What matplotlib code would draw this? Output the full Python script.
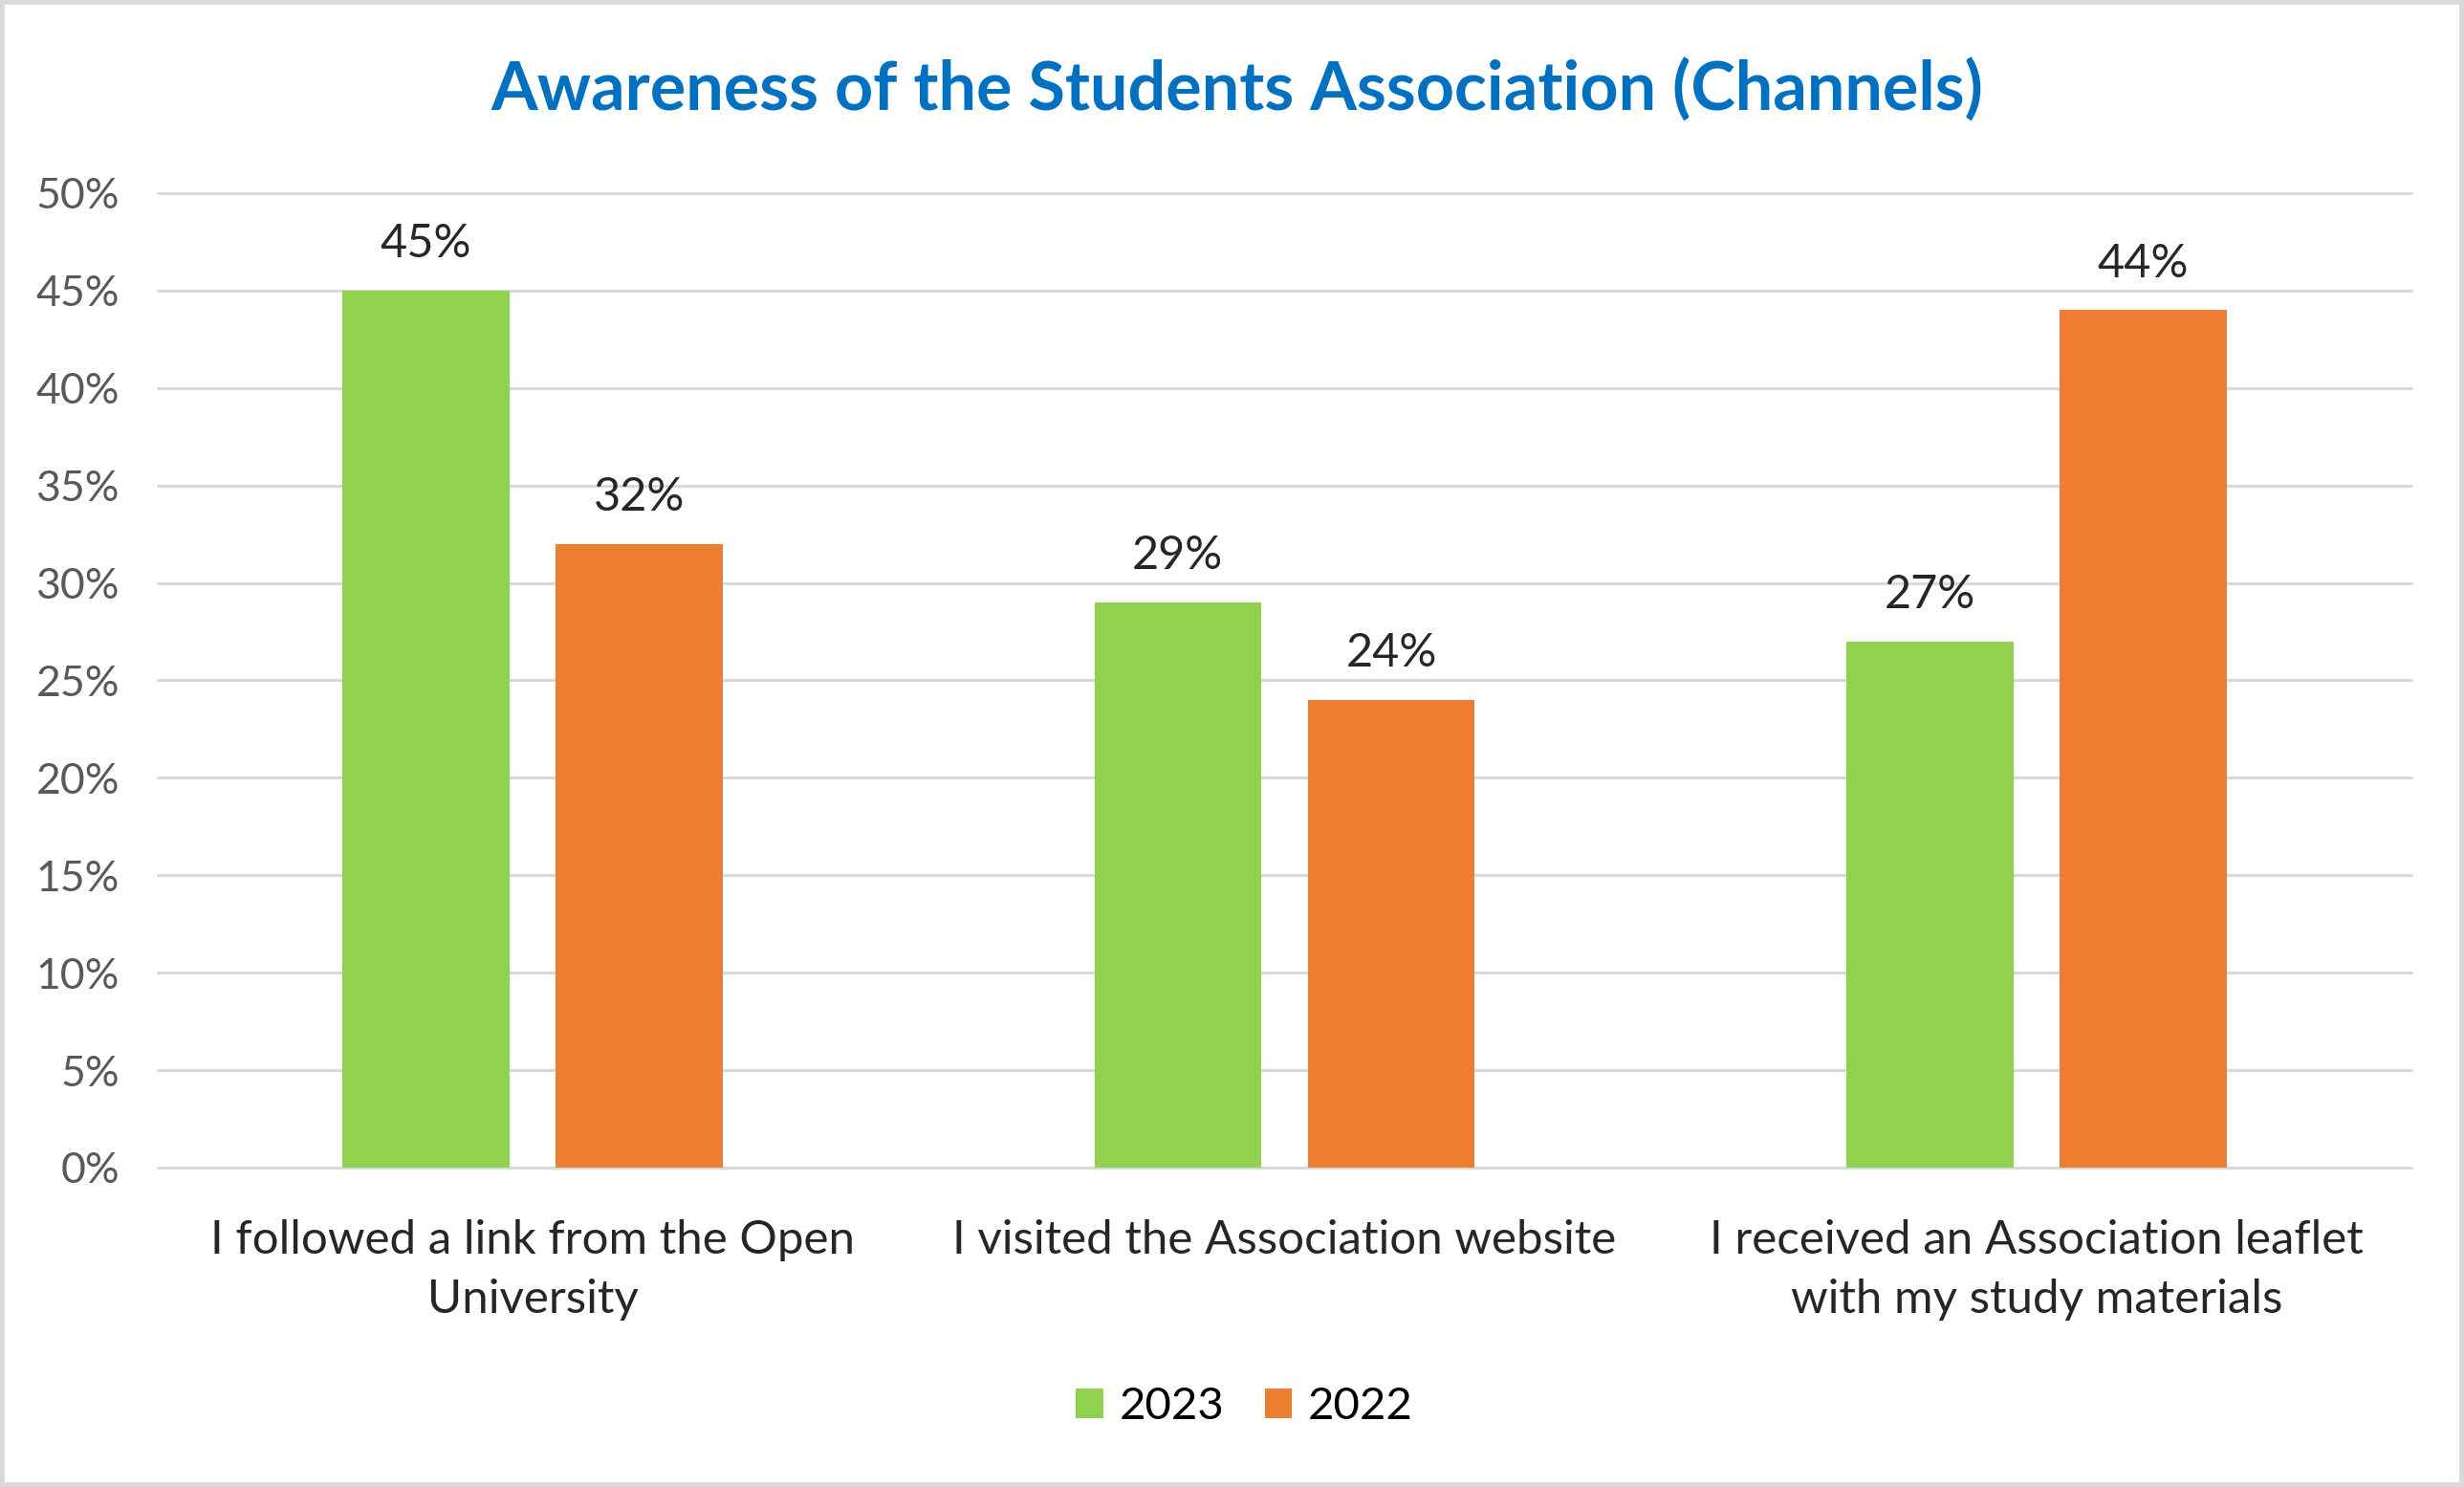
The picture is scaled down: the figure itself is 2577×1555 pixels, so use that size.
import numpy as np
import matplotlib.pyplot as plt
from matplotlib.patches import Rectangle

plt.rcParams['font.family'] = ['Lato', 'DejaVu Sans']

categories = ['I followed a link from the Open\nUniversity',
              'I visited the Association website',
              'I received an Association leaflet\nwith my study materials']
years = ['2023', '2022']
values_2023 = [45, 29, 27]
values_2022 = [32, 24, 44]
y_ticks = [0, 5, 10, 15, 20, 25, 30, 35, 40, 45, 50]

green = '#92D050'
orange = '#ED7D31'
grid_col = '#D9D9D9'

fig = plt.figure(figsize=(25.77, 15.55), dpi=100)
ax = fig.add_axes([0.0636, 0.2148, 0.9155, 0.6553])

x = np.arange(len(categories))
w = 0.222
off = 0.142
b1 = ax.bar(x - off, values_2023, w, color=green, label=years[0], zorder=3)
b2 = ax.bar(x + off, values_2022, w, color=orange, label=years[1], zorder=3)

# gridlines drawn by hand so the top one is not clipped
ax.hlines(y_ticks, -0.5, 2.5, colors=grid_col, linewidth=2.3, zorder=1, clip_on=False)

for bars, vals in ((b1, values_2023), (b2, values_2022)):
    for rect, v in zip(bars, vals):
        ax.annotate(f'{v}%', (rect.get_x() + rect.get_width() / 2, v),
                    xytext=(0, 25), textcoords='offset points',
                    ha='center', va='baseline', fontsize=35, color='#262626')

ax.set_xlim(-0.5, 2.5)
ax.set_ylim(0, 50)
ax.set_yticks(y_ticks)
ax.set_yticklabels([f'{t}%' for t in y_ticks], fontsize=32, color='#595959')
ax.set_xticks(x)
ax.set_xticklabels(categories, fontsize=35.5, color='#262626', linespacing=1.5)
ax.tick_params(axis='y', length=0, pad=28)
ax.tick_params(axis='x', length=0, pad=39)
for s in ax.spines.values():
    s.set_visible(False)

fig.text(0.502, 0.940, 'Awareness of the Students Association (Channels)',
         ha='center', va='center', fontsize=50.5, fontweight='bold', color='#0070C0')

fig.legend(loc='center', bbox_to_anchor=(0.505, 0.054), ncol=2, frameon=False,
           fontsize=34, handlelength=0.6, handleheight=0.64,
           handletextpad=0.35, columnspacing=0.9)

fig.patches.append(Rectangle((0, 0), 1, 1, transform=fig.transFigure, fill=False,
                             edgecolor=grid_col, linewidth=7))

fig.savefig('out.png', dpi=100)
